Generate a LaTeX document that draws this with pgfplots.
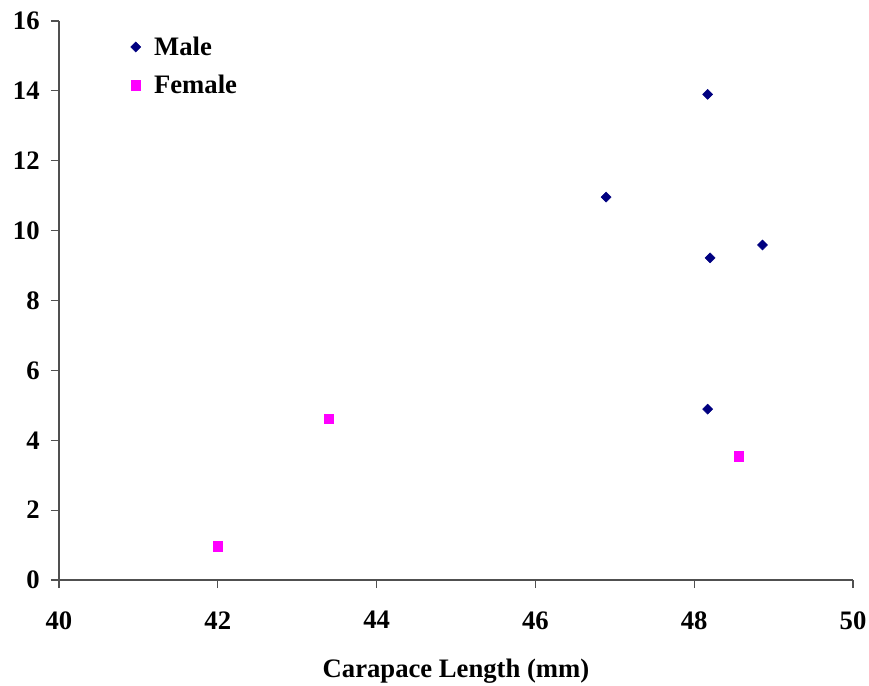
\documentclass[border=0pt]{standalone}
\usepackage{pgfplots}
\pgfplotsset{compat=1.18}
\usepackage{fontspec}
\setmainfont{Liberation Serif}
\definecolor{male}{RGB}{0,0,128}
\definecolor{female}{RGB}{255,0,255}
\definecolor{axgray}{RGB}{80,80,80}
\begin{document}
\begin{tikzpicture}
\useasboundingbox (-44.25pt,-79.5pt) rectangle (607.5pt,435pt);
\begin{axis}[
  at={(0,0)}, anchor=south west,
  scale only axis, width=595.5pt, height=419.25pt,
  xmin=40, xmax=50, ymin=0, ymax=16,
  xtick={40,42,...,50}, ytick={0,2,...,16},
  axis x line*=bottom, axis y line*=left,
  axis line style={axgray, line width=0.9pt},
  every tick/.style={axgray, line width=0.9pt},
  tick align=outside, major tick length=6pt,
  /pgf/number format/assume math mode=true,
  tick label style={font=\fontsize{20}{22}\selectfont\bfseries},
  xticklabel style={yshift=-14pt},
  yticklabel style={xshift=-5pt},
  xlabel={Carapace Length (mm)},
  xlabel style={font=\fontsize{20}{22}\selectfont\bfseries, yshift=-15pt},
  legend style={draw=none, fill=none, at={(0.085,0.982)}, anchor=north west,
    font=\fontsize{20}{22}\selectfont\bfseries, row sep=9.5pt,
    legend cell align=left, nodes={inner xsep=5pt},
    /tikz/every odd column/.append style={column sep=5pt}},
]
\addplot[only marks, mark=square*, mark size=2.65pt, mark options={rotate=45, fill=male, draw=male}]
coordinates {(48.17,13.9) (46.89,10.96) (48.2,9.22) (48.86,9.59) (48.17,4.89)};
\addlegendentry{Male}
\addplot[only marks, mark=square*, mark size=3.6pt, mark options={fill=female, draw=female}]
coordinates {(42.0,0.97) (43.4,4.61) (48.56,3.55)};
\addlegendentry{Female}
\end{axis}
\end{tikzpicture}
\end{document}
